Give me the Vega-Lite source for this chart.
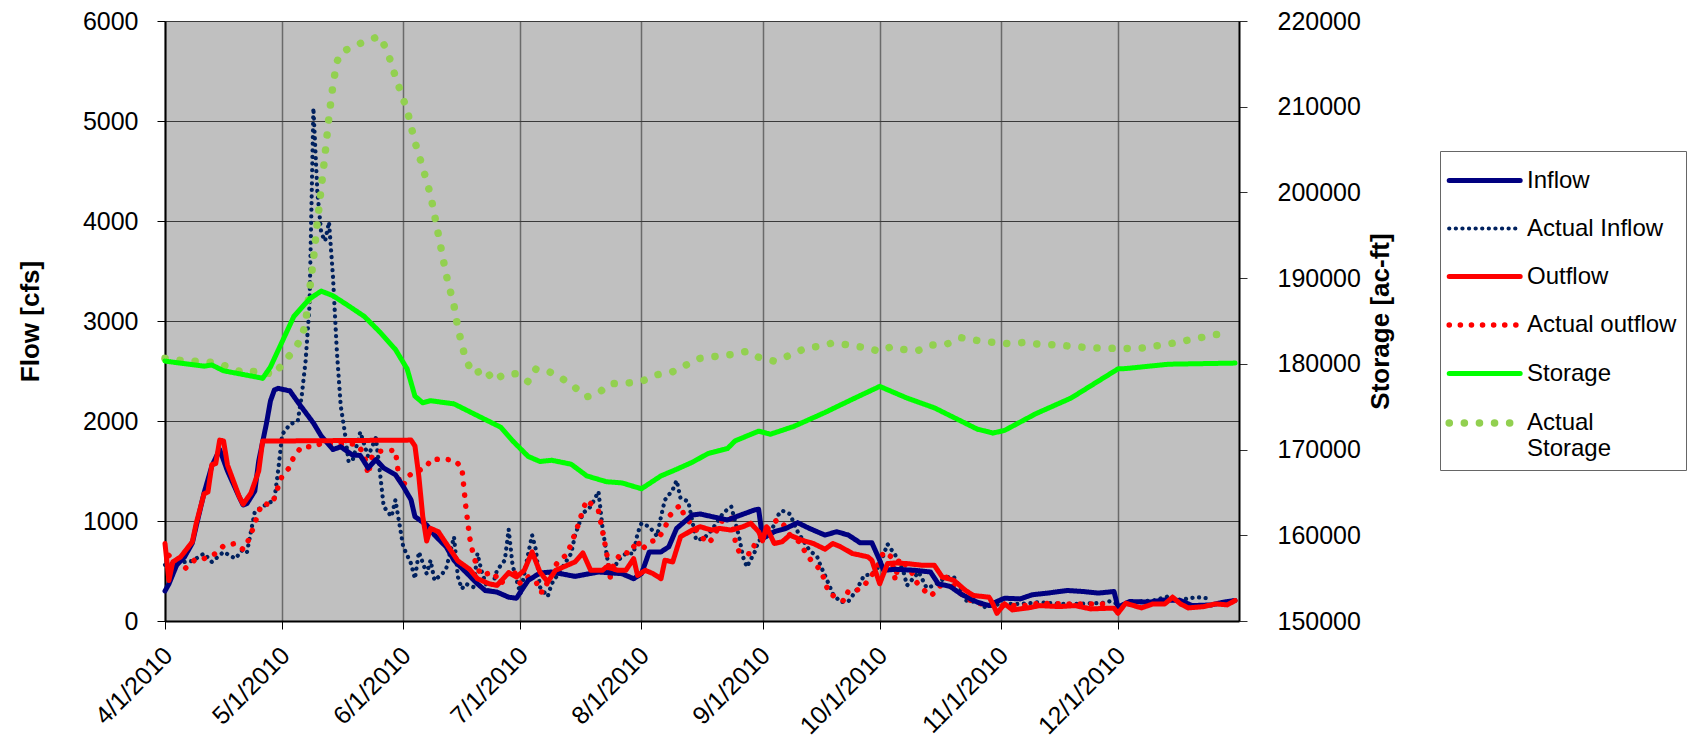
{
  "$schema": "https://vega.github.io/schema/vega-lite/v6.json",
  "width": 1074,
  "height": 600,
  "autosize": "none",
  "padding": {"left": 165, "top": 21, "right": 453, "bottom": 124},
  "background": "white",
  "config": {
    "font": "Liberation Sans",
    "view": {"fill": "#c0c0c0", "stroke": "#808080", "strokeWidth": 1},
    "legend": {
      "orient": "none", "legendX": 1275, "legendY": 130, "direction": "vertical",
      "symbolType": "M-1.2,0L2.8,0", "symbolSize": 1260, "labelFontSize": 24, "labelColor": "#000",
      "labelFont": "Liberation Sans", "labelOffset": 35, "fillColor": "white", "strokeColor": "#666666",
      "padding": 9, "rowPadding": 15.5, "labelLimit": 300
    }
  },
  "datasets": {
    "flow": [
      {"date":"2010-04-01","series":"Actual Inflow","value":560},
      {"date":"2010-04-04","series":"Actual Inflow","value":580},
      {"date":"2010-04-06","series":"Actual Inflow","value":590},
      {"date":"2010-04-08","series":"Actual Inflow","value":600},
      {"date":"2010-04-11","series":"Actual Inflow","value":675},
      {"date":"2010-04-13","series":"Actual Inflow","value":590},
      {"date":"2010-04-16","series":"Actual Inflow","value":691},
      {"date":"2010-04-19","series":"Actual Inflow","value":624},
      {"date":"2010-04-21","series":"Actual Inflow","value":718},
      {"date":"2010-04-22","series":"Actual Inflow","value":691},
      {"date":"2010-04-23","series":"Actual Inflow","value":893},
      {"date":"2010-04-24","series":"Actual Inflow","value":1094},
      {"date":"2010-04-26","series":"Actual Inflow","value":1144},
      {"date":"2010-04-29","series":"Actual Inflow","value":1211},
      {"date":"2010-04-30","series":"Actual Inflow","value":1513},
      {"date":"2010-05-01","series":"Actual Inflow","value":1866},
      {"date":"2010-05-03","series":"Actual Inflow","value":1967},
      {"date":"2010-05-05","series":"Actual Inflow","value":2000},
      {"date":"2010-05-06","series":"Actual Inflow","value":2250},
      {"date":"2010-05-07","series":"Actual Inflow","value":2600},
      {"date":"2010-05-08","series":"Actual Inflow","value":3150},
      {"date":"2010-05-09","series":"Actual Inflow","value":5130},
      {"date":"2010-05-10","series":"Actual Inflow","value":4300},
      {"date":"2010-05-11","series":"Actual Inflow","value":3880},
      {"date":"2010-05-12","series":"Actual Inflow","value":3800},
      {"date":"2010-05-13","series":"Actual Inflow","value":3990},
      {"date":"2010-05-14","series":"Actual Inflow","value":3450},
      {"date":"2010-05-15","series":"Actual Inflow","value":2700},
      {"date":"2010-05-16","series":"Actual Inflow","value":2150},
      {"date":"2010-05-17","series":"Actual Inflow","value":1900},
      {"date":"2010-05-18","series":"Actual Inflow","value":1597},
      {"date":"2010-05-19","series":"Actual Inflow","value":1600},
      {"date":"2010-05-21","series":"Actual Inflow","value":1889},
      {"date":"2010-05-23","series":"Actual Inflow","value":1648},
      {"date":"2010-05-25","series":"Actual Inflow","value":1832},
      {"date":"2010-05-26","series":"Actual Inflow","value":1500},
      {"date":"2010-05-27","series":"Actual Inflow","value":1144},
      {"date":"2010-05-29","series":"Actual Inflow","value":1044},
      {"date":"2010-05-30","series":"Actual Inflow","value":1211},
      {"date":"2010-05-31","series":"Actual Inflow","value":977},
      {"date":"2010-06-01","series":"Actual Inflow","value":742},
      {"date":"2010-06-03","series":"Actual Inflow","value":574},
      {"date":"2010-06-04","series":"Actual Inflow","value":423},
      {"date":"2010-06-05","series":"Actual Inflow","value":691},
      {"date":"2010-06-07","series":"Actual Inflow","value":473},
      {"date":"2010-06-08","series":"Actual Inflow","value":607},
      {"date":"2010-06-09","series":"Actual Inflow","value":406},
      {"date":"2010-06-11","series":"Actual Inflow","value":473},
      {"date":"2010-06-12","series":"Actual Inflow","value":524},
      {"date":"2010-06-14","series":"Actual Inflow","value":842},
      {"date":"2010-06-15","series":"Actual Inflow","value":440},
      {"date":"2010-06-16","series":"Actual Inflow","value":322},
      {"date":"2010-06-17","series":"Actual Inflow","value":372},
      {"date":"2010-06-19","series":"Actual Inflow","value":339},
      {"date":"2010-06-20","series":"Actual Inflow","value":675},
      {"date":"2010-06-21","series":"Actual Inflow","value":507},
      {"date":"2010-06-23","series":"Actual Inflow","value":272},
      {"date":"2010-06-24","series":"Actual Inflow","value":372},
      {"date":"2010-06-25","series":"Actual Inflow","value":507},
      {"date":"2010-06-27","series":"Actual Inflow","value":607},
      {"date":"2010-06-28","series":"Actual Inflow","value":916},
      {"date":"2010-06-29","series":"Actual Inflow","value":557},
      {"date":"2010-07-01","series":"Actual Inflow","value":272},
      {"date":"2010-07-02","series":"Actual Inflow","value":473},
      {"date":"2010-07-03","series":"Actual Inflow","value":675},
      {"date":"2010-07-04","series":"Actual Inflow","value":859},
      {"date":"2010-07-05","series":"Actual Inflow","value":708},
      {"date":"2010-07-06","series":"Actual Inflow","value":339},
      {"date":"2010-07-08","series":"Actual Inflow","value":245},
      {"date":"2010-07-09","series":"Actual Inflow","value":372},
      {"date":"2010-07-11","series":"Actual Inflow","value":490},
      {"date":"2010-07-14","series":"Actual Inflow","value":675},
      {"date":"2010-07-15","series":"Actual Inflow","value":859},
      {"date":"2010-07-17","series":"Actual Inflow","value":1077},
      {"date":"2010-07-19","series":"Actual Inflow","value":1144},
      {"date":"2010-07-21","series":"Actual Inflow","value":1295},
      {"date":"2010-07-22","series":"Actual Inflow","value":943},
      {"date":"2010-07-23","series":"Actual Inflow","value":691},
      {"date":"2010-07-24","series":"Actual Inflow","value":440},
      {"date":"2010-07-26","series":"Actual Inflow","value":607},
      {"date":"2010-07-28","series":"Actual Inflow","value":675},
      {"date":"2010-07-30","series":"Actual Inflow","value":675},
      {"date":"2010-07-31","series":"Actual Inflow","value":876},
      {"date":"2010-08-01","series":"Actual Inflow","value":977},
      {"date":"2010-08-03","series":"Actual Inflow","value":943},
      {"date":"2010-08-05","series":"Actual Inflow","value":849},
      {"date":"2010-08-06","series":"Actual Inflow","value":1044},
      {"date":"2010-08-07","series":"Actual Inflow","value":1211},
      {"date":"2010-08-09","series":"Actual Inflow","value":1312},
      {"date":"2010-08-10","series":"Actual Inflow","value":1406},
      {"date":"2010-08-11","series":"Actual Inflow","value":1228},
      {"date":"2010-08-13","series":"Actual Inflow","value":1195},
      {"date":"2010-08-15","series":"Actual Inflow","value":809},
      {"date":"2010-08-17","series":"Actual Inflow","value":826},
      {"date":"2010-08-19","series":"Actual Inflow","value":909},
      {"date":"2010-08-22","series":"Actual Inflow","value":1084},
      {"date":"2010-08-24","series":"Actual Inflow","value":1144},
      {"date":"2010-08-26","series":"Actual Inflow","value":842},
      {"date":"2010-08-27","series":"Actual Inflow","value":641},
      {"date":"2010-08-28","series":"Actual Inflow","value":540},
      {"date":"2010-08-30","series":"Actual Inflow","value":691},
      {"date":"2010-08-31","series":"Actual Inflow","value":802},
      {"date":"2010-09-02","series":"Actual Inflow","value":842},
      {"date":"2010-09-04","series":"Actual Inflow","value":960},
      {"date":"2010-09-05","series":"Actual Inflow","value":1060},
      {"date":"2010-09-06","series":"Actual Inflow","value":1104},
      {"date":"2010-09-08","series":"Actual Inflow","value":1070},
      {"date":"2010-09-10","series":"Actual Inflow","value":893},
      {"date":"2010-09-13","series":"Actual Inflow","value":708},
      {"date":"2010-09-15","series":"Actual Inflow","value":641},
      {"date":"2010-09-16","series":"Actual Inflow","value":540},
      {"date":"2010-09-17","series":"Actual Inflow","value":456},
      {"date":"2010-09-19","series":"Actual Inflow","value":272},
      {"date":"2010-09-21","series":"Actual Inflow","value":188},
      {"date":"2010-09-23","series":"Actual Inflow","value":198},
      {"date":"2010-09-25","series":"Actual Inflow","value":305},
      {"date":"2010-09-27","series":"Actual Inflow","value":456},
      {"date":"2010-09-29","series":"Actual Inflow","value":466},
      {"date":"2010-10-01","series":"Actual Inflow","value":557},
      {"date":"2010-10-03","series":"Actual Inflow","value":769},
      {"date":"2010-10-05","series":"Actual Inflow","value":658},
      {"date":"2010-10-07","series":"Actual Inflow","value":507},
      {"date":"2010-10-08","series":"Actual Inflow","value":356},
      {"date":"2010-10-11","series":"Actual Inflow","value":490},
      {"date":"2010-10-13","series":"Actual Inflow","value":332},
      {"date":"2010-10-15","series":"Actual Inflow","value":356},
      {"date":"2010-10-18","series":"Actual Inflow","value":440},
      {"date":"2010-10-20","series":"Actual Inflow","value":440},
      {"date":"2010-10-22","series":"Actual Inflow","value":305},
      {"date":"2010-10-23","series":"Actual Inflow","value":205},
      {"date":"2010-10-26","series":"Actual Inflow","value":188},
      {"date":"2010-10-28","series":"Actual Inflow","value":138},
      {"date":"2010-11-01","series":"Actual Inflow","value":171},
      {"date":"2010-11-06","series":"Actual Inflow","value":171},
      {"date":"2010-11-11","series":"Actual Inflow","value":188},
      {"date":"2010-11-16","series":"Actual Inflow","value":171},
      {"date":"2010-11-21","series":"Actual Inflow","value":171},
      {"date":"2010-11-27","series":"Actual Inflow","value":181},
      {"date":"2010-11-29","series":"Actual Inflow","value":198},
      {"date":"2010-12-02","series":"Actual Inflow","value":154},
      {"date":"2010-12-07","series":"Actual Inflow","value":198},
      {"date":"2010-12-10","series":"Actual Inflow","value":205},
      {"date":"2010-12-14","series":"Actual Inflow","value":248},
      {"date":"2010-12-17","series":"Actual Inflow","value":211},
      {"date":"2010-12-21","series":"Actual Inflow","value":238},
      {"date":"2010-12-24","series":"Actual Inflow","value":228},

      {"date":"2010-04-02","series":"Actual outflow","value":655},
      {"date":"2010-04-06","series":"Actual outflow","value":520},
      {"date":"2010-04-09","series":"Actual outflow","value":624},
      {"date":"2010-04-11","series":"Actual outflow","value":624},
      {"date":"2010-04-14","series":"Actual outflow","value":675},
      {"date":"2010-04-16","series":"Actual outflow","value":752},
      {"date":"2010-04-19","series":"Actual outflow","value":775},
      {"date":"2010-04-21","series":"Actual outflow","value":715},
      {"date":"2010-04-22","series":"Actual outflow","value":775},
      {"date":"2010-04-23","series":"Actual outflow","value":869},
      {"date":"2010-04-24","series":"Actual outflow","value":977},
      {"date":"2010-04-25","series":"Actual outflow","value":1094},
      {"date":"2010-04-26","series":"Actual outflow","value":1178},
      {"date":"2010-04-28","series":"Actual outflow","value":1161},
      {"date":"2010-04-29","series":"Actual outflow","value":1228},
      {"date":"2010-04-30","series":"Actual outflow","value":1346},
      {"date":"2010-05-01","series":"Actual outflow","value":1453},
      {"date":"2010-05-03","series":"Actual outflow","value":1540},
      {"date":"2010-05-04","series":"Actual outflow","value":1648},
      {"date":"2010-05-06","series":"Actual outflow","value":1742},
      {"date":"2010-05-09","series":"Actual outflow","value":1742},
      {"date":"2010-05-11","series":"Actual outflow","value":1775},
      {"date":"2010-05-14","series":"Actual outflow","value":1770},
      {"date":"2010-05-17","series":"Actual outflow","value":1770},
      {"date":"2010-05-20","series":"Actual outflow","value":1770},
      {"date":"2010-05-22","series":"Actual outflow","value":1675},
      {"date":"2010-05-23","series":"Actual outflow","value":1463},
      {"date":"2010-05-24","series":"Actual outflow","value":1641},
      {"date":"2010-05-26","series":"Actual outflow","value":1698},
      {"date":"2010-05-30","series":"Actual outflow","value":1708},
      {"date":"2010-05-31","series":"Actual outflow","value":1400},
      {"date":"2010-06-01","series":"Actual outflow","value":1346},
      {"date":"2010-06-02","series":"Actual outflow","value":1446},
      {"date":"2010-06-04","series":"Actual outflow","value":1487},
      {"date":"2010-06-07","series":"Actual outflow","value":1540},
      {"date":"2010-06-08","series":"Actual outflow","value":1614},
      {"date":"2010-06-11","series":"Actual outflow","value":1620},
      {"date":"2010-06-14","series":"Actual outflow","value":1608},
      {"date":"2010-06-16","series":"Actual outflow","value":1540},
      {"date":"2010-06-17","series":"Actual outflow","value":1150},
      {"date":"2010-06-18","series":"Actual outflow","value":836},
      {"date":"2010-06-19","series":"Actual outflow","value":650},
      {"date":"2010-06-20","series":"Actual outflow","value":534},
      {"date":"2010-06-21","series":"Actual outflow","value":456},
      {"date":"2010-06-24","series":"Actual outflow","value":490},
      {"date":"2010-06-26","series":"Actual outflow","value":372},
      {"date":"2010-06-29","series":"Actual outflow","value":524},
      {"date":"2010-07-01","series":"Actual outflow","value":372},
      {"date":"2010-07-03","series":"Actual outflow","value":440},
      {"date":"2010-07-05","series":"Actual outflow","value":396},
      {"date":"2010-07-06","series":"Actual outflow","value":289},
      {"date":"2010-07-07","series":"Actual outflow","value":289},
      {"date":"2010-07-09","series":"Actual outflow","value":507},
      {"date":"2010-07-11","series":"Actual outflow","value":607},
      {"date":"2010-07-13","series":"Actual outflow","value":668},
      {"date":"2010-07-14","series":"Actual outflow","value":775},
      {"date":"2010-07-15","series":"Actual outflow","value":876},
      {"date":"2010-07-16","series":"Actual outflow","value":983},
      {"date":"2010-07-17","series":"Actual outflow","value":1111},
      {"date":"2010-07-18","series":"Actual outflow","value":1211},
      {"date":"2010-07-20","series":"Actual outflow","value":1138},
      {"date":"2010-07-21","series":"Actual outflow","value":1100},
      {"date":"2010-07-22","series":"Actual outflow","value":903},
      {"date":"2010-07-23","series":"Actual outflow","value":700},
      {"date":"2010-07-24","series":"Actual outflow","value":440},
      {"date":"2010-07-25","series":"Actual outflow","value":581},
      {"date":"2010-07-27","series":"Actual outflow","value":691},
      {"date":"2010-07-29","series":"Actual outflow","value":675},
      {"date":"2010-07-31","series":"Actual outflow","value":809},
      {"date":"2010-08-01","series":"Actual outflow","value":708},
      {"date":"2010-08-03","series":"Actual outflow","value":792},
      {"date":"2010-08-05","series":"Actual outflow","value":809},
      {"date":"2010-08-07","series":"Actual outflow","value":926},
      {"date":"2010-08-08","series":"Actual outflow","value":1044},
      {"date":"2010-08-10","series":"Actual outflow","value":1128},
      {"date":"2010-08-11","series":"Actual outflow","value":1161},
      {"date":"2010-08-12","series":"Actual outflow","value":1044},
      {"date":"2010-08-14","series":"Actual outflow","value":960},
      {"date":"2010-08-16","series":"Actual outflow","value":859},
      {"date":"2010-08-18","series":"Actual outflow","value":775},
      {"date":"2010-08-19","series":"Actual outflow","value":815},
      {"date":"2010-08-22","series":"Actual outflow","value":1027},
      {"date":"2010-08-24","series":"Actual outflow","value":1027},
      {"date":"2010-08-25","series":"Actual outflow","value":802},
      {"date":"2010-08-26","series":"Actual outflow","value":691},
      {"date":"2010-08-29","series":"Actual outflow","value":668},
      {"date":"2010-08-30","series":"Actual outflow","value":769},
      {"date":"2010-09-02","series":"Actual outflow","value":909},
      {"date":"2010-09-03","series":"Actual outflow","value":960},
      {"date":"2010-09-05","series":"Actual outflow","value":1017},
      {"date":"2010-09-07","series":"Actual outflow","value":936},
      {"date":"2010-09-08","series":"Actual outflow","value":859},
      {"date":"2010-09-11","series":"Actual outflow","value":775},
      {"date":"2010-09-12","series":"Actual outflow","value":675},
      {"date":"2010-09-14","series":"Actual outflow","value":581},
      {"date":"2010-09-16","series":"Actual outflow","value":507},
      {"date":"2010-09-17","series":"Actual outflow","value":389},
      {"date":"2010-09-18","series":"Actual outflow","value":279},
      {"date":"2010-09-20","series":"Actual outflow","value":232},
      {"date":"2010-09-22","series":"Actual outflow","value":198},
      {"date":"2010-09-23","series":"Actual outflow","value":305},
      {"date":"2010-09-25","series":"Actual outflow","value":305},
      {"date":"2010-09-27","series":"Actual outflow","value":346},
      {"date":"2010-09-28","series":"Actual outflow","value":413},
      {"date":"2010-09-30","series":"Actual outflow","value":507},
      {"date":"2010-10-02","series":"Actual outflow","value":691},
      {"date":"2010-10-04","series":"Actual outflow","value":641},
      {"date":"2010-10-05","series":"Actual outflow","value":406},
      {"date":"2010-10-06","series":"Actual outflow","value":624},
      {"date":"2010-10-09","series":"Actual outflow","value":507},
      {"date":"2010-10-10","series":"Actual outflow","value":406},
      {"date":"2010-10-12","series":"Actual outflow","value":322},
      {"date":"2010-10-14","series":"Actual outflow","value":248},
      {"date":"2010-10-16","series":"Actual outflow","value":322},
      {"date":"2010-10-18","series":"Actual outflow","value":440},
      {"date":"2010-10-20","series":"Actual outflow","value":346},
      {"date":"2010-10-22","series":"Actual outflow","value":265},
      {"date":"2010-10-24","series":"Actual outflow","value":211},
      {"date":"2010-10-27","series":"Actual outflow","value":171},
      {"date":"2010-10-29","series":"Actual outflow","value":171},
      {"date":"2010-10-31","series":"Actual outflow","value":154},
      {"date":"2010-11-07","series":"Actual outflow","value":154},
      {"date":"2010-11-11","series":"Actual outflow","value":178},
      {"date":"2010-11-16","series":"Actual outflow","value":171},
      {"date":"2010-11-22","series":"Actual outflow","value":171},
      {"date":"2010-11-28","series":"Actual outflow","value":171},

      {"date":"2010-04-01","series":"Inflow","value":300},
      {"date":"2010-04-02","series":"Inflow","value":370},
      {"date":"2010-04-04","series":"Inflow","value":560},
      {"date":"2010-04-06","series":"Inflow","value":640},
      {"date":"2010-04-08","series":"Inflow","value":780},
      {"date":"2010-04-09","series":"Inflow","value":950},
      {"date":"2010-04-11","series":"Inflow","value":1280},
      {"date":"2010-04-13","series":"Inflow","value":1550},
      {"date":"2010-04-15","series":"Inflow","value":1715},
      {"date":"2010-04-17","series":"Inflow","value":1500},
      {"date":"2010-04-20","series":"Inflow","value":1240},
      {"date":"2010-04-21","series":"Inflow","value":1160},
      {"date":"2010-04-22","series":"Inflow","value":1175},
      {"date":"2010-04-24","series":"Inflow","value":1300},
      {"date":"2010-04-25","series":"Inflow","value":1600},
      {"date":"2010-04-27","series":"Inflow","value":1980},
      {"date":"2010-04-28","series":"Inflow","value":2200},
      {"date":"2010-04-29","series":"Inflow","value":2310},
      {"date":"2010-04-30","series":"Inflow","value":2326},
      {"date":"2010-05-03","series":"Inflow","value":2300},
      {"date":"2010-05-05","series":"Inflow","value":2190},
      {"date":"2010-05-09","series":"Inflow","value":1980},
      {"date":"2010-05-11","series":"Inflow","value":1850},
      {"date":"2010-05-14","series":"Inflow","value":1715},
      {"date":"2010-05-16","series":"Inflow","value":1742},
      {"date":"2010-05-19","series":"Inflow","value":1660},
      {"date":"2010-05-21","series":"Inflow","value":1655},
      {"date":"2010-05-23","series":"Inflow","value":1530},
      {"date":"2010-05-25","series":"Inflow","value":1614},
      {"date":"2010-05-27","series":"Inflow","value":1530},
      {"date":"2010-05-30","series":"Inflow","value":1463},
      {"date":"2010-06-01","series":"Inflow","value":1346},
      {"date":"2010-06-03","series":"Inflow","value":1211},
      {"date":"2010-06-04","series":"Inflow","value":1044},
      {"date":"2010-06-07","series":"Inflow","value":960},
      {"date":"2010-06-09","series":"Inflow","value":860},
      {"date":"2010-06-12","series":"Inflow","value":742},
      {"date":"2010-06-14","series":"Inflow","value":607},
      {"date":"2010-06-17","series":"Inflow","value":490},
      {"date":"2010-06-20","series":"Inflow","value":372},
      {"date":"2010-06-22","series":"Inflow","value":305},
      {"date":"2010-06-25","series":"Inflow","value":289},
      {"date":"2010-06-28","series":"Inflow","value":238},
      {"date":"2010-06-30","series":"Inflow","value":228},
      {"date":"2010-07-01","series":"Inflow","value":289},
      {"date":"2010-07-03","series":"Inflow","value":406},
      {"date":"2010-07-06","series":"Inflow","value":480},
      {"date":"2010-07-09","series":"Inflow","value":490},
      {"date":"2010-07-15","series":"Inflow","value":446},
      {"date":"2010-07-21","series":"Inflow","value":490},
      {"date":"2010-07-27","series":"Inflow","value":473},
      {"date":"2010-07-30","series":"Inflow","value":423},
      {"date":"2010-08-01","series":"Inflow","value":473},
      {"date":"2010-08-03","series":"Inflow","value":691},
      {"date":"2010-08-06","series":"Inflow","value":691},
      {"date":"2010-08-08","series":"Inflow","value":742},
      {"date":"2010-08-10","series":"Inflow","value":926},
      {"date":"2010-08-14","series":"Inflow","value":1060},
      {"date":"2010-08-16","series":"Inflow","value":1070},
      {"date":"2010-08-19","series":"Inflow","value":1044},
      {"date":"2010-08-23","series":"Inflow","value":1010},
      {"date":"2010-08-26","series":"Inflow","value":1054},
      {"date":"2010-08-30","series":"Inflow","value":1111},
      {"date":"2010-08-31","series":"Inflow","value":1118},
      {"date":"2010-09-01","series":"Inflow","value":826},
      {"date":"2010-09-04","series":"Inflow","value":893},
      {"date":"2010-09-07","series":"Inflow","value":926},
      {"date":"2010-09-10","series":"Inflow","value":983},
      {"date":"2010-09-13","series":"Inflow","value":926},
      {"date":"2010-09-17","series":"Inflow","value":859},
      {"date":"2010-09-20","series":"Inflow","value":893},
      {"date":"2010-09-23","series":"Inflow","value":859},
      {"date":"2010-09-26","series":"Inflow","value":782},
      {"date":"2010-09-29","series":"Inflow","value":782},
      {"date":"2010-10-01","series":"Inflow","value":607},
      {"date":"2010-10-02","series":"Inflow","value":507},
      {"date":"2010-10-05","series":"Inflow","value":517},
      {"date":"2010-10-10","series":"Inflow","value":507},
      {"date":"2010-10-14","series":"Inflow","value":490},
      {"date":"2010-10-16","series":"Inflow","value":372},
      {"date":"2010-10-19","series":"Inflow","value":346},
      {"date":"2010-10-22","series":"Inflow","value":265},
      {"date":"2010-10-26","series":"Inflow","value":188},
      {"date":"2010-10-29","series":"Inflow","value":154},
      {"date":"2010-10-31","series":"Inflow","value":195},
      {"date":"2010-11-02","series":"Inflow","value":228},
      {"date":"2010-11-06","series":"Inflow","value":221},
      {"date":"2010-11-09","series":"Inflow","value":262},
      {"date":"2010-11-13","series":"Inflow","value":279},
      {"date":"2010-11-18","series":"Inflow","value":305},
      {"date":"2010-11-22","series":"Inflow","value":295},
      {"date":"2010-11-26","series":"Inflow","value":279},
      {"date":"2010-11-30","series":"Inflow","value":295},
      {"date":"2010-12-01","series":"Inflow","value":138},
      {"date":"2010-12-04","series":"Inflow","value":195},
      {"date":"2010-12-09","series":"Inflow","value":188},
      {"date":"2010-12-13","series":"Inflow","value":211},
      {"date":"2010-12-17","series":"Inflow","value":205},
      {"date":"2010-12-20","series":"Inflow","value":154},
      {"date":"2010-12-25","series":"Inflow","value":161},
      {"date":"2010-12-28","series":"Inflow","value":188},
      {"date":"2010-12-31","series":"Inflow","value":205},

      {"date":"2010-04-01","series":"Outflow","value":775},
      {"date":"2010-04-02","series":"Outflow","value":406},
      {"date":"2010-04-03","series":"Outflow","value":591},
      {"date":"2010-04-05","series":"Outflow","value":641},
      {"date":"2010-04-08","series":"Outflow","value":792},
      {"date":"2010-04-09","series":"Outflow","value":977},
      {"date":"2010-04-11","series":"Outflow","value":1272},
      {"date":"2010-04-12","series":"Outflow","value":1290},
      {"date":"2010-04-13","series":"Outflow","value":1564},
      {"date":"2010-04-14","series":"Outflow","value":1575},
      {"date":"2010-04-15","series":"Outflow","value":1809},
      {"date":"2010-04-16","series":"Outflow","value":1800},
      {"date":"2010-04-17","series":"Outflow","value":1560},
      {"date":"2010-04-20","series":"Outflow","value":1245},
      {"date":"2010-04-21","series":"Outflow","value":1168},
      {"date":"2010-04-23","series":"Outflow","value":1279},
      {"date":"2010-04-25","series":"Outflow","value":1500},
      {"date":"2010-04-26","series":"Outflow","value":1799},
      {"date":"2010-06-03","series":"Outflow","value":1809},
      {"date":"2010-06-04","series":"Outflow","value":1750},
      {"date":"2010-06-05","series":"Outflow","value":1446},
      {"date":"2010-06-06","series":"Outflow","value":1044},
      {"date":"2010-06-07","series":"Outflow","value":800},
      {"date":"2010-06-08","series":"Outflow","value":926},
      {"date":"2010-06-10","series":"Outflow","value":893},
      {"date":"2010-06-12","series":"Outflow","value":775},
      {"date":"2010-06-15","series":"Outflow","value":601},
      {"date":"2010-06-18","series":"Outflow","value":517},
      {"date":"2010-06-20","series":"Outflow","value":423},
      {"date":"2010-06-23","series":"Outflow","value":372},
      {"date":"2010-06-25","series":"Outflow","value":356},
      {"date":"2010-06-27","series":"Outflow","value":440},
      {"date":"2010-06-28","series":"Outflow","value":483},
      {"date":"2010-06-30","series":"Outflow","value":440},
      {"date":"2010-07-02","series":"Outflow","value":507},
      {"date":"2010-07-04","series":"Outflow","value":691},
      {"date":"2010-07-06","series":"Outflow","value":490},
      {"date":"2010-07-08","series":"Outflow","value":389},
      {"date":"2010-07-10","series":"Outflow","value":507},
      {"date":"2010-07-12","series":"Outflow","value":540},
      {"date":"2010-07-15","series":"Outflow","value":591},
      {"date":"2010-07-17","series":"Outflow","value":681},
      {"date":"2010-07-19","series":"Outflow","value":507},
      {"date":"2010-07-22","series":"Outflow","value":507},
      {"date":"2010-07-23","series":"Outflow","value":540},
      {"date":"2010-07-26","series":"Outflow","value":507},
      {"date":"2010-07-28","series":"Outflow","value":507},
      {"date":"2010-07-30","series":"Outflow","value":624},
      {"date":"2010-07-31","series":"Outflow","value":456},
      {"date":"2010-08-02","series":"Outflow","value":507},
      {"date":"2010-08-04","series":"Outflow","value":473},
      {"date":"2010-08-06","series":"Outflow","value":423},
      {"date":"2010-08-07","series":"Outflow","value":607},
      {"date":"2010-08-09","series":"Outflow","value":591},
      {"date":"2010-08-11","series":"Outflow","value":842},
      {"date":"2010-08-14","series":"Outflow","value":909},
      {"date":"2010-08-16","series":"Outflow","value":943},
      {"date":"2010-08-19","series":"Outflow","value":909},
      {"date":"2010-08-21","series":"Outflow","value":926},
      {"date":"2010-08-24","series":"Outflow","value":909},
      {"date":"2010-08-27","series":"Outflow","value":943},
      {"date":"2010-08-29","series":"Outflow","value":977},
      {"date":"2010-08-31","series":"Outflow","value":893},
      {"date":"2010-09-01","series":"Outflow","value":802},
      {"date":"2010-09-02","series":"Outflow","value":943},
      {"date":"2010-09-04","series":"Outflow","value":775},
      {"date":"2010-09-06","series":"Outflow","value":792},
      {"date":"2010-09-08","series":"Outflow","value":859},
      {"date":"2010-09-11","series":"Outflow","value":809},
      {"date":"2010-09-14","series":"Outflow","value":775},
      {"date":"2010-09-17","series":"Outflow","value":718},
      {"date":"2010-09-19","series":"Outflow","value":775},
      {"date":"2010-09-21","series":"Outflow","value":742},
      {"date":"2010-09-24","series":"Outflow","value":675},
      {"date":"2010-09-28","series":"Outflow","value":641},
      {"date":"2010-09-29","series":"Outflow","value":607},
      {"date":"2010-10-01","series":"Outflow","value":372},
      {"date":"2010-10-03","series":"Outflow","value":574},
      {"date":"2010-10-05","series":"Outflow","value":581},
      {"date":"2010-10-08","series":"Outflow","value":574},
      {"date":"2010-10-12","series":"Outflow","value":557},
      {"date":"2010-10-15","series":"Outflow","value":557},
      {"date":"2010-10-17","series":"Outflow","value":440},
      {"date":"2010-10-20","series":"Outflow","value":406},
      {"date":"2010-10-23","series":"Outflow","value":305},
      {"date":"2010-10-25","series":"Outflow","value":255},
      {"date":"2010-10-29","series":"Outflow","value":238},
      {"date":"2010-10-30","series":"Outflow","value":171},
      {"date":"2010-10-31","series":"Outflow","value":77},
      {"date":"2010-11-02","series":"Outflow","value":171},
      {"date":"2010-11-04","series":"Outflow","value":111},
      {"date":"2010-11-08","series":"Outflow","value":131},
      {"date":"2010-11-11","series":"Outflow","value":154},
      {"date":"2010-11-16","series":"Outflow","value":144},
      {"date":"2010-11-20","series":"Outflow","value":154},
      {"date":"2010-11-24","series":"Outflow","value":121},
      {"date":"2010-11-29","series":"Outflow","value":128},
      {"date":"2010-11-30","series":"Outflow","value":128},
      {"date":"2010-12-01","series":"Outflow","value":77},
      {"date":"2010-12-03","series":"Outflow","value":178},
      {"date":"2010-12-07","series":"Outflow","value":131},
      {"date":"2010-12-10","series":"Outflow","value":171},
      {"date":"2010-12-13","series":"Outflow","value":171},
      {"date":"2010-12-15","series":"Outflow","value":238},
      {"date":"2010-12-17","series":"Outflow","value":171},
      {"date":"2010-12-19","series":"Outflow","value":131},
      {"date":"2010-12-23","series":"Outflow","value":144},
      {"date":"2010-12-26","series":"Outflow","value":171},
      {"date":"2010-12-29","series":"Outflow","value":161},
      {"date":"2010-12-31","series":"Outflow","value":205}
    ],
    "storage": [
      {"date":"2010-04-01","series":"Actual Storage","value":180640},
      {"date":"2010-04-05","series":"Actual Storage","value":180400},
      {"date":"2010-04-09","series":"Actual Storage","value":180300},
      {"date":"2010-04-13","series":"Actual Storage","value":180180},
      {"date":"2010-04-17","series":"Actual Storage","value":179700},
      {"date":"2010-04-21","series":"Actual Storage","value":178960},
      {"date":"2010-04-25","series":"Actual Storage","value":179190},
      {"date":"2010-04-29","series":"Actual Storage","value":178730},
      {"date":"2010-05-01","series":"Actual Storage","value":179960},
      {"date":"2010-05-04","series":"Actual Storage","value":181590},
      {"date":"2010-05-06","series":"Actual Storage","value":183040},
      {"date":"2010-05-07","series":"Actual Storage","value":184860},
      {"date":"2010-05-08","series":"Actual Storage","value":188490},
      {"date":"2010-05-09","series":"Actual Storage","value":192120},
      {"date":"2010-05-10","series":"Actual Storage","value":196500},
      {"date":"2010-05-11","series":"Actual Storage","value":200500},
      {"date":"2010-05-12","series":"Actual Storage","value":204500},
      {"date":"2010-05-13","series":"Actual Storage","value":208900},
      {"date":"2010-05-14","series":"Actual Storage","value":212500},
      {"date":"2010-05-15","series":"Actual Storage","value":215200},
      {"date":"2010-05-16","series":"Actual Storage","value":216310},
      {"date":"2010-05-19","series":"Actual Storage","value":217000},
      {"date":"2010-05-23","series":"Actual Storage","value":217770},
      {"date":"2010-05-26","series":"Actual Storage","value":218220},
      {"date":"2010-05-28","series":"Actual Storage","value":216400},
      {"date":"2010-05-30","series":"Actual Storage","value":213500},
      {"date":"2010-06-02","series":"Actual Storage","value":209600},
      {"date":"2010-06-04","series":"Actual Storage","value":205880},
      {"date":"2010-06-06","series":"Actual Storage","value":202900},
      {"date":"2010-06-08","series":"Actual Storage","value":199700},
      {"date":"2010-06-10","series":"Actual Storage","value":195070},
      {"date":"2010-06-12","series":"Actual Storage","value":190400},
      {"date":"2010-06-14","series":"Actual Storage","value":186800},
      {"date":"2010-06-15","series":"Actual Storage","value":184180},
      {"date":"2010-06-17","series":"Actual Storage","value":180460},
      {"date":"2010-06-19","series":"Actual Storage","value":178820},
      {"date":"2010-06-22","series":"Actual Storage","value":179410},
      {"date":"2010-06-24","series":"Actual Storage","value":178050},
      {"date":"2010-06-27","series":"Actual Storage","value":178800},
      {"date":"2010-06-30","series":"Actual Storage","value":178850},
      {"date":"2010-07-03","series":"Actual Storage","value":177920},
      {"date":"2010-07-05","series":"Actual Storage","value":179410},
      {"date":"2010-07-08","series":"Actual Storage","value":179190},
      {"date":"2010-07-12","series":"Actual Storage","value":178190},
      {"date":"2010-07-15","series":"Actual Storage","value":177230},
      {"date":"2010-07-18","series":"Actual Storage","value":176150},
      {"date":"2010-07-21","series":"Actual Storage","value":176600},
      {"date":"2010-07-24","series":"Actual Storage","value":177690},
      {"date":"2010-07-28","series":"Actual Storage","value":177730},
      {"date":"2010-08-01","series":"Actual Storage","value":177960},
      {"date":"2010-08-05","series":"Actual Storage","value":178730},
      {"date":"2010-08-09","series":"Actual Storage","value":179090},
      {"date":"2010-08-12","series":"Actual Storage","value":179780},
      {"date":"2010-08-16","series":"Actual Storage","value":180640},
      {"date":"2010-08-20","series":"Actual Storage","value":180870},
      {"date":"2010-08-24","series":"Actual Storage","value":181090},
      {"date":"2010-08-28","series":"Actual Storage","value":181460},
      {"date":"2010-08-31","series":"Actual Storage","value":180770},
      {"date":"2010-09-04","series":"Actual Storage","value":180320},
      {"date":"2010-09-08","series":"Actual Storage","value":181000},
      {"date":"2010-09-12","series":"Actual Storage","value":181820},
      {"date":"2010-09-16","series":"Actual Storage","value":182090},
      {"date":"2010-09-19","series":"Actual Storage","value":182450},
      {"date":"2010-09-24","series":"Actual Storage","value":182140},
      {"date":"2010-09-27","series":"Actual Storage","value":181910},
      {"date":"2010-10-01","series":"Actual Storage","value":181460},
      {"date":"2010-10-04","series":"Actual Storage","value":182000},
      {"date":"2010-10-07","series":"Actual Storage","value":181680},
      {"date":"2010-10-11","series":"Actual Storage","value":181590},
      {"date":"2010-10-14","series":"Actual Storage","value":182180},
      {"date":"2010-10-18","series":"Actual Storage","value":182270},
      {"date":"2010-10-22","series":"Actual Storage","value":183040},
      {"date":"2010-10-26","series":"Actual Storage","value":182730},
      {"date":"2010-10-30","series":"Actual Storage","value":182500},
      {"date":"2010-11-03","series":"Actual Storage","value":182360},
      {"date":"2010-11-07","series":"Actual Storage","value":182500},
      {"date":"2010-11-11","series":"Actual Storage","value":182270},
      {"date":"2010-11-15","series":"Actual Storage","value":182230},
      {"date":"2010-11-19","series":"Actual Storage","value":182050},
      {"date":"2010-11-23","series":"Actual Storage","value":181910},
      {"date":"2010-11-27","series":"Actual Storage","value":181820},
      {"date":"2010-12-02","series":"Actual Storage","value":181800},
      {"date":"2010-12-06","series":"Actual Storage","value":181770},
      {"date":"2010-12-10","series":"Actual Storage","value":182050},
      {"date":"2010-12-14","series":"Actual Storage","value":182320},
      {"date":"2010-12-18","series":"Actual Storage","value":182680},
      {"date":"2010-12-22","series":"Actual Storage","value":183040},
      {"date":"2010-12-26","series":"Actual Storage","value":183410},
      {"date":"2010-12-30","series":"Actual Storage","value":183500},

      {"date":"2010-04-01","series":"Storage","value":180320},
      {"date":"2010-04-11","series":"Storage","value":179730},
      {"date":"2010-04-13","series":"Storage","value":179870},
      {"date":"2010-04-16","series":"Storage","value":179190},
      {"date":"2010-04-25","series":"Storage","value":178410},
      {"date":"2010-04-26","series":"Storage","value":178300},
      {"date":"2010-04-28","series":"Storage","value":179640},
      {"date":"2010-05-01","series":"Storage","value":182590},
      {"date":"2010-05-04","series":"Storage","value":185540},
      {"date":"2010-05-08","series":"Storage","value":187580},
      {"date":"2010-05-11","series":"Storage","value":188490},
      {"date":"2010-05-14","series":"Storage","value":187950},
      {"date":"2010-05-18","series":"Storage","value":186770},
      {"date":"2010-05-22","series":"Storage","value":185540},
      {"date":"2010-05-26","series":"Storage","value":183720},
      {"date":"2010-05-30","series":"Storage","value":181680},
      {"date":"2010-06-02","series":"Storage","value":179410},
      {"date":"2010-06-04","series":"Storage","value":176230},
      {"date":"2010-06-06","series":"Storage","value":175460},
      {"date":"2010-06-08","series":"Storage","value":175700},
      {"date":"2010-06-14","series":"Storage","value":175330},
      {"date":"2010-06-19","series":"Storage","value":174190},
      {"date":"2010-06-26","series":"Storage","value":172600},
      {"date":"2010-06-29","series":"Storage","value":171020},
      {"date":"2010-07-03","series":"Storage","value":169200},
      {"date":"2010-07-06","series":"Storage","value":168610},
      {"date":"2010-07-09","series":"Storage","value":168750},
      {"date":"2010-07-14","series":"Storage","value":168290},
      {"date":"2010-07-18","series":"Storage","value":166930},
      {"date":"2010-07-23","series":"Storage","value":166250},
      {"date":"2010-07-27","series":"Storage","value":166110},
      {"date":"2010-08-01","series":"Storage","value":165430},
      {"date":"2010-08-06","series":"Storage","value":166930},
      {"date":"2010-08-10","series":"Storage","value":167700},
      {"date":"2010-08-14","series":"Storage","value":168520},
      {"date":"2010-08-18","series":"Storage","value":169520},
      {"date":"2010-08-23","series":"Storage","value":170110},
      {"date":"2010-08-25","series":"Storage","value":171020},
      {"date":"2010-08-31","series":"Storage","value":172150},
      {"date":"2010-09-03","series":"Storage","value":171790},
      {"date":"2010-09-09","series":"Storage","value":172700},
      {"date":"2010-09-17","series":"Storage","value":174330},
      {"date":"2010-09-24","series":"Storage","value":175870},
      {"date":"2010-10-01","series":"Storage","value":177370},
      {"date":"2010-10-08","series":"Storage","value":176010},
      {"date":"2010-10-15","series":"Storage","value":174870},
      {"date":"2010-10-26","series":"Storage","value":172380},
      {"date":"2010-10-30","series":"Storage","value":171920},
      {"date":"2010-11-02","series":"Storage","value":172240},
      {"date":"2010-11-10","series":"Storage","value":174190},
      {"date":"2010-11-19","series":"Storage","value":176010},
      {"date":"2010-12-01","series":"Storage","value":179410},
      {"date":"2010-12-03","series":"Storage","value":179450},
      {"date":"2010-12-14","series":"Storage","value":179960},
      {"date":"2010-12-31","series":"Storage","value":180090}
    ]
  },
  "encoding": {
    "x": {
      "field": "date", "type": "temporal",
      "scale": {"type": "utc", "domain": [{"year": 2010, "month": 4, "date": 1, "utc": true}, {"year": 2011, "month": 1, "date": 1, "utc": true}]},
      "axis": {
        "title": null, "format": "%-m/%-d/%Y",
        "values": [
          {"year": 2010, "month": 4, "date": 1, "utc": true},
          {"year": 2010, "month": 5, "date": 1, "utc": true},
          {"year": 2010, "month": 6, "date": 1, "utc": true},
          {"year": 2010, "month": 7, "date": 1, "utc": true},
          {"year": 2010, "month": 8, "date": 1, "utc": true},
          {"year": 2010, "month": 9, "date": 1, "utc": true},
          {"year": 2010, "month": 10, "date": 1, "utc": true},
          {"year": 2010, "month": 11, "date": 1, "utc": true},
          {"year": 2010, "month": 12, "date": 1, "utc": true}
        ],
        "labelAngle": -45, "labelAlign": "right", "labelBaseline": "middle",
        "labelFontSize": 25, "labelColor": "#000", "labelPadding": 22, "labelOffset": 3, "labelOverlap": false, "labelFlush": false,
        "tickSize": 8, "tickColor": "#000", "domainColor": "#000", "domainWidth": 2,
        "grid": true, "gridColor": "#6a6a6a", "gridWidth": 1.5
      }
    }
  },
  "layer": [
    {
      "data": {"name": "flow"},
      "mark": {"type": "line", "strokeCap": "round", "strokeJoin": "round"},
      "encoding": {
        "y": {
          "field": "value", "type": "quantitative",
          "scale": {"domain": [0, 6000], "nice": false, "zero": false},
          "axis": {
            "orient": "left", "title": "Flow [cfs]", "values": [0, 1000, 2000, 3000, 4000, 5000, 6000], "format": "d",
            "grid": true, "gridColor": "#3a3a3a", "gridWidth": 1,
            "domainColor": "#000", "domainWidth": 2, "tickColor": "#000", "tickSize": 8,
            "labelFontSize": 25, "labelColor": "#000", "labelPadding": 19,
            "titleFontSize": 26, "titleFontWeight": "bold", "titleColor": "#000", "titlePadding": 39
          }
        },
        "color": {
          "field": "series", "type": "nominal",
          "scale": {"domain": ["Inflow", "Actual Inflow", "Outflow", "Actual outflow", "Storage", "Actual Storage"],
                    "range": ["#000080", "#00215f", "#ff0000", "#ff0000", "#00ff00", "#92d050"]},
          "legend": {"title": null, "labelExpr": "datum.label == 'Actual Storage' ? ['Actual', 'Storage'] : datum.label",
                     "encoding": {"symbols": {"strokeCap": {"value": "round"}}}}
        },
        "strokeDash": {
          "field": "series", "type": "nominal",
          "scale": {"domain": ["Inflow", "Actual Inflow", "Outflow", "Actual outflow", "Storage", "Actual Storage"],
                    "range": [[1, 0], [0.1, 6.5], [1, 0], [0.1, 11], [1, 0], [0.1, 15]]},
          "legend": {"title": null}
        },
        "strokeWidth": {
          "field": "series", "type": "nominal",
          "scale": {"type": "ordinal", "domain": ["Inflow", "Actual Inflow", "Outflow", "Actual outflow", "Storage", "Actual Storage"],
                    "range": [5, 4.2, 5, 5.5, 5, 7.5]},
          "legend": {"title": null}
        }
      }
    },
    {
      "data": {"name": "storage"},
      "mark": {"type": "line", "strokeCap": "round", "strokeJoin": "round"},
      "encoding": {
        "y": {
          "field": "value", "type": "quantitative",
          "scale": {"domain": [150000, 220000], "nice": false, "zero": false},
          "axis": {
            "orient": "right", "title": "Storage [ac-ft]", "format": "d",
            "values": [150000, 160000, 170000, 180000, 190000, 200000, 210000, 220000],
            "grid": false, "domainColor": "#000", "domainWidth": 2, "tickColor": "#303030", "tickSize": 8,
            "labelFontSize": 25, "labelColor": "#000", "labelPadding": 30,
            "titleFontSize": 26, "titleFontWeight": "bold", "titleColor": "#000", "titlePadding": 7,
            "titleAngle": 270, "titleBaseline": "top"
          }
        },
        "color": {
          "field": "series", "type": "nominal",
          "scale": {"domain": ["Inflow", "Actual Inflow", "Outflow", "Actual outflow", "Storage", "Actual Storage"],
                    "range": ["#000080", "#00215f", "#ff0000", "#ff0000", "#00ff00", "#92d050"]},
          "legend": {"title": null, "labelExpr": "datum.label == 'Actual Storage' ? ['Actual', 'Storage'] : datum.label",
                     "encoding": {"symbols": {"strokeCap": {"value": "round"}}}}
        },
        "strokeDash": {
          "field": "series", "type": "nominal",
          "scale": {"domain": ["Inflow", "Actual Inflow", "Outflow", "Actual outflow", "Storage", "Actual Storage"],
                    "range": [[1, 0], [0.1, 6.5], [1, 0], [0.1, 11], [1, 0], [0.1, 15]]},
          "legend": {"title": null}
        },
        "strokeWidth": {
          "field": "series", "type": "nominal",
          "scale": {"type": "ordinal", "domain": ["Inflow", "Actual Inflow", "Outflow", "Actual outflow", "Storage", "Actual Storage"],
                    "range": [5, 4.2, 5, 5.5, 5, 7.5]},
          "legend": {"title": null}
        }
      }
    }
  ],
  "resolve": {"scale": {"y": "independent"}}
}
